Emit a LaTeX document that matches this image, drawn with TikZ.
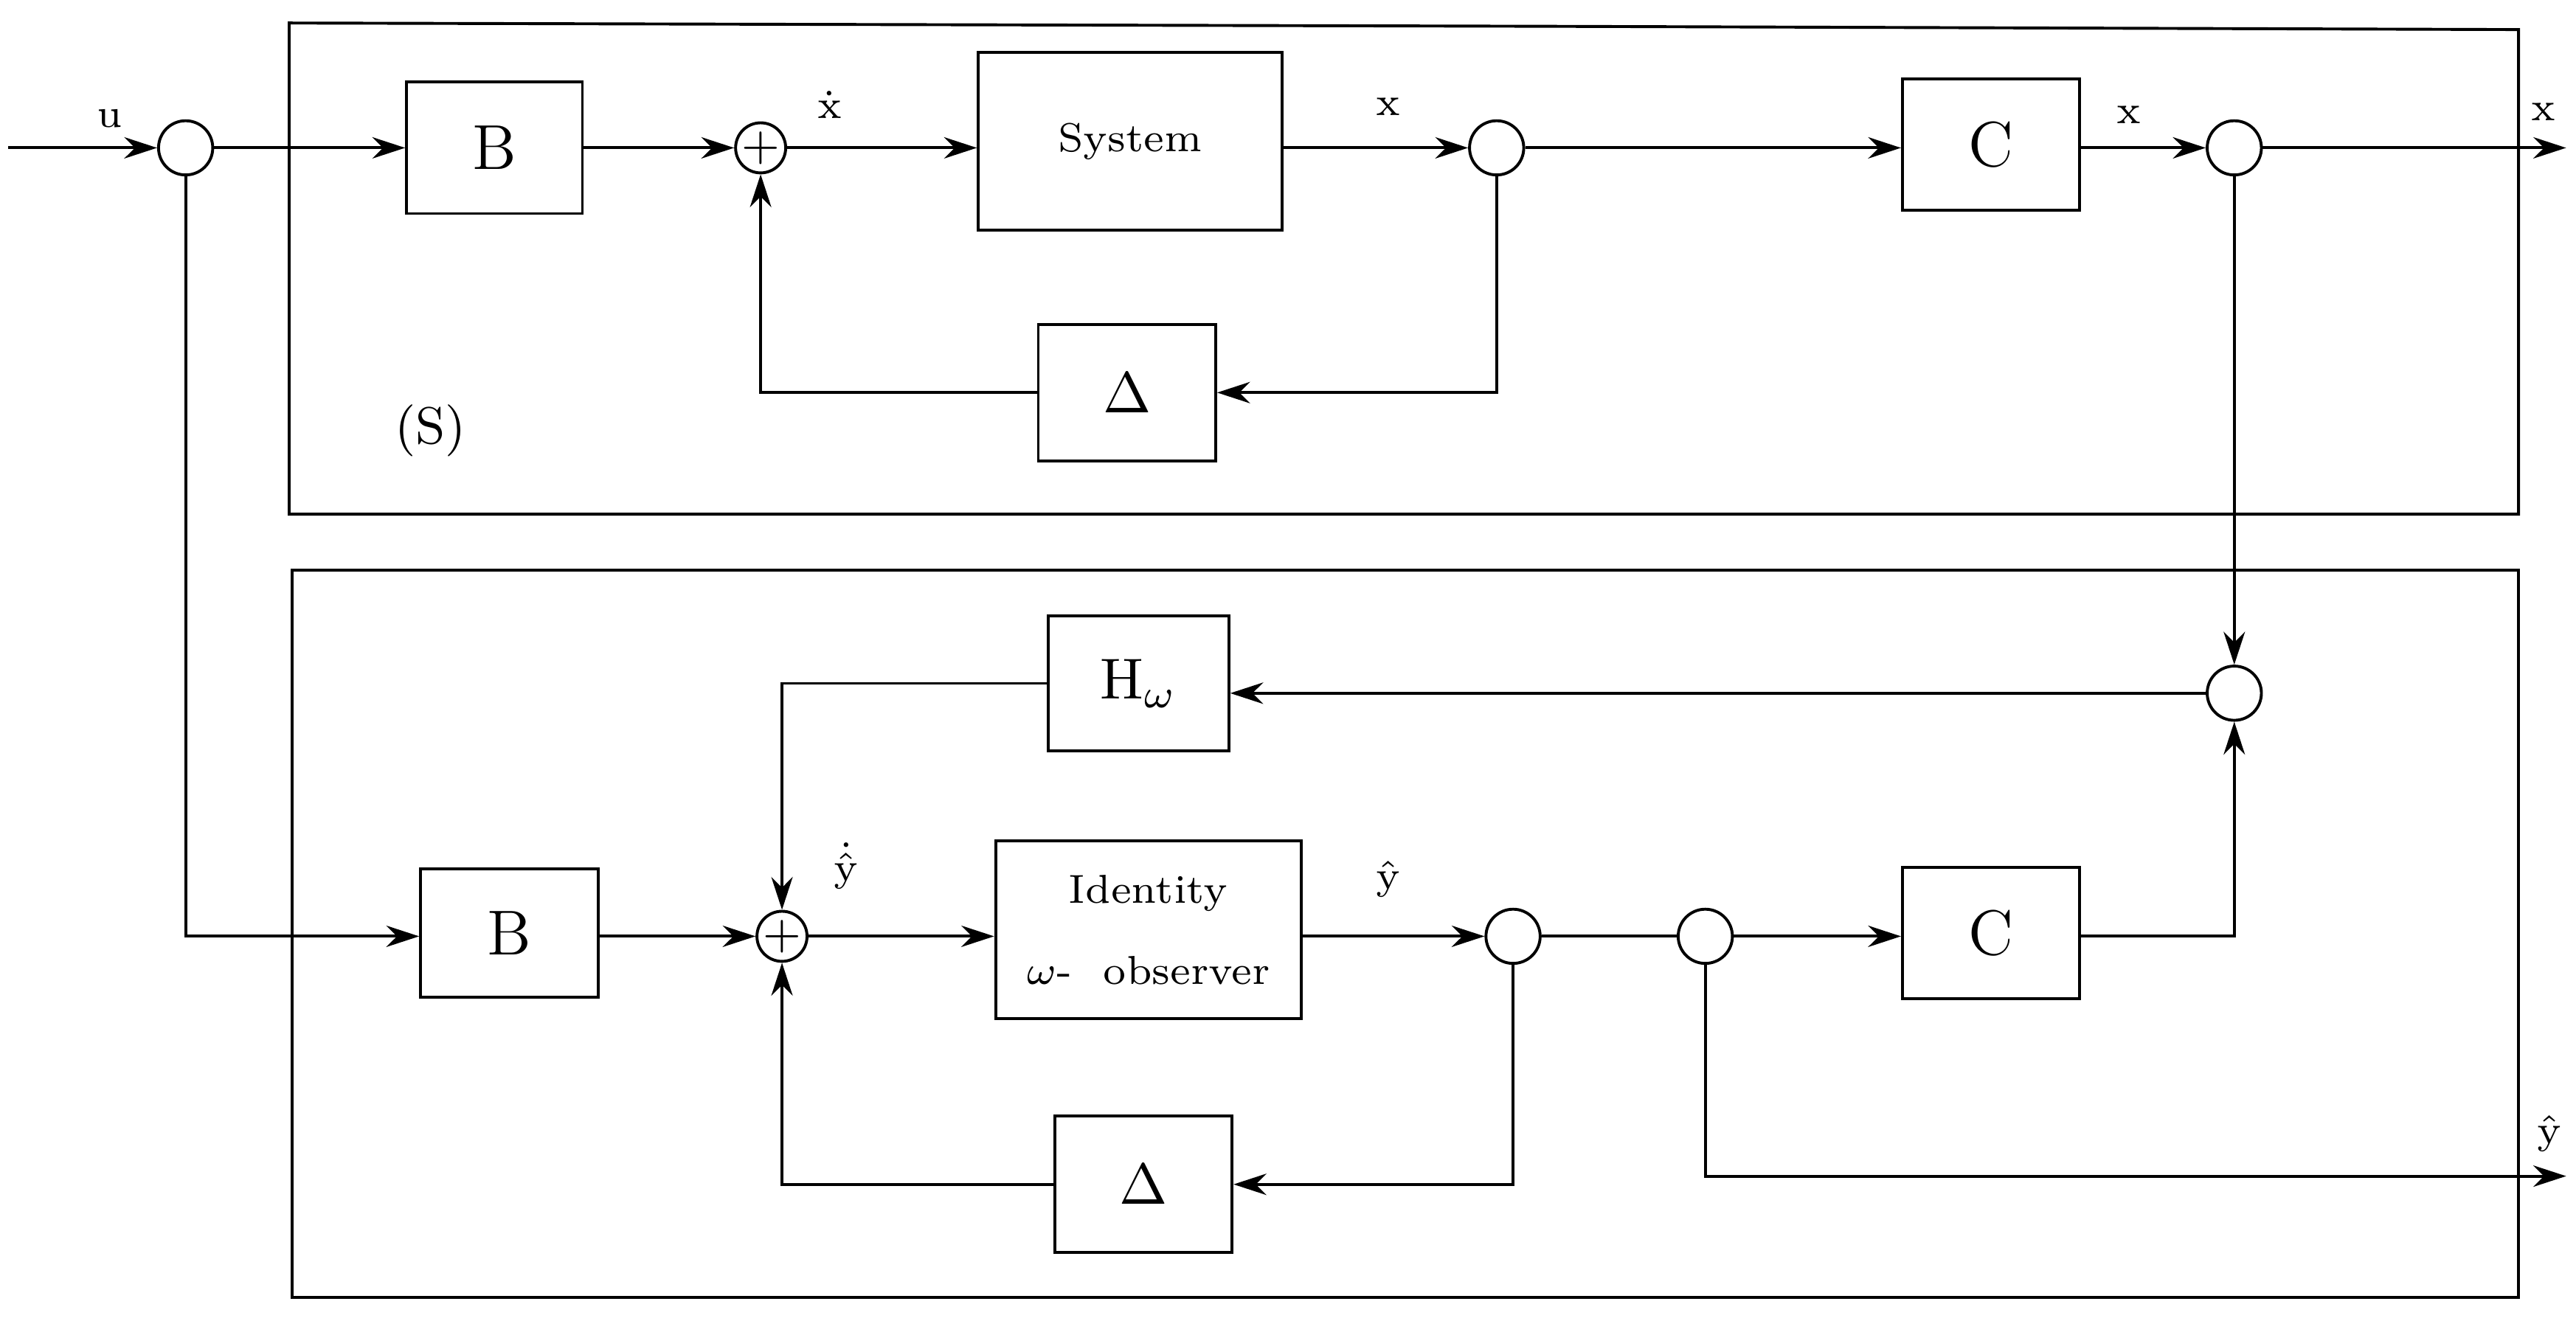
\documentclass[tikz,border=0pt]{standalone}
\usetikzlibrary{arrows.meta}
\begin{document}
\begin{tikzpicture}[x=0.1mm,y=-0.1mm,line width=0.5pt,
 cir/.style={draw,circle,minimum size=3.3mm,inner sep=0pt},
 sm/.style={font=\fontsize{7}{8}\selectfont},
 ar/.style={-{Stealth[length=2mm,width=1.3mm]}}]
\useasboundingbox (0,0) rectangle (1568,804);
% frames
\draw (176,14) -- (940,16) -- (1533,18) -- (1533,313) -- (176,313) -- cycle;
\draw (178,347) -- (1533,347) -- (1533,790) -- (178,790) -- cycle;
% top
\coordinate (uin) at (5,90);
\node[cir] (cu) at (113,90) {};
\node[draw,minimum width=10.7mm,minimum height=8mm,font=\fontsize{11}{12}\selectfont] (B1) at (301,90) {B};
\node[cir,minimum size=3mm,font=\fontsize{8}{8}\selectfont] (s1) at (463,90) {+};
\node[draw,minimum width=18.5mm,minimum height=10.8mm,font=\fontsize{7}{8}\selectfont] (sys) at (688,86) {System};
\node[cir] (c1) at (911,90) {};
\node[draw,minimum width=10.8mm,minimum height=8mm,font=\fontsize{11}{12}\selectfont] (C1) at (1212,88) {C};
\node[cir] (c2) at (1360,90) {};
\coordinate (xout) at (1562,90);
\node[draw,minimum width=10.8mm,minimum height=8.3mm,font=\fontsize{10}{12}\selectfont] (D1) at (686,239) {$\Delta$};
\node[font=\fontsize{9}{10}\selectfont] at (262,262) {(S)};
\draw[ar] (uin) -- (cu);
\node[sm] at (67,72) {u};
\draw[ar] (cu) -- (cu -| B1.west);
\draw[ar] (s1 -| B1.east) -- (s1);
\draw[ar] (s1) -- (s1 -| sys.west);
\node[sm] at (505,64) {$\dot{\mathrm{x}}$};
\draw[ar] (c1 -| sys.east) -- (c1);
\node[sm] at (845,65) {x};
\draw[ar] (c1) -- (c1 -| C1.west);
\draw[ar] (c2 -| C1.east) -- (c2);
\node[sm] at (1296,70) {x};
\draw[ar] (c2) -- (xout);
\node[sm] at (1548,68) {x};
\draw[ar] (c1.south) |- (D1.east);
\draw[ar] (D1.west) -| (s1.south);
% bottom
\node[cir] (c5) at (1360,422) {};
\node[draw,minimum width=11mm,minimum height=8.2mm,font=\fontsize{10}{12}\selectfont] (H) at (693,416) {H$_{\omega}$};
\node[draw,minimum width=10.8mm,minimum height=7.8mm,font=\fontsize{11}{12}\selectfont] (B2) at (310,568) {B};
\node[cir,minimum size=3mm,font=\fontsize{8}{8}\selectfont] (s2) at (476,570) {+};
\node[draw,minimum width=18.6mm,minimum height=10.8mm,align=center,font=\fontsize{7}{12}\selectfont] (obs) at (699,566) {Identity\\[2pt]$\omega$-\ \ observer};
\node[cir] (c3) at (921,570) {};
\node[cir] (c4) at (1038,570) {};
\node[draw,minimum width=10.8mm,minimum height=8mm,font=\fontsize{11}{12}\selectfont] (C2) at (1212,568) {C};
\node[draw,minimum width=10.8mm,minimum height=8.3mm,font=\fontsize{10}{12}\selectfont] (D2) at (696,721) {$\Delta$};
\coordinate (yout) at (1562,716);
\draw[ar] (c2.south) -- (c5.north);
\draw[ar] (c5.west) -- (c5 -| H.east);
\draw[ar] (H.west) -| (s2.north);
\draw[ar] (cu.south) |- (cu |- s2) -- (s2 -| B2.west);
\draw[ar] (s2 -| B2.east) -- (s2);
\draw[ar] (s2) -- (s2 -| obs.west);
\node[sm] at (515,527) {$\dot{\hat{\mathrm{y}}}$};
\draw[ar] (c3 -| obs.east) -- (c3);
\node[sm] at (845,535) {$\hat{\mathrm{y}}$};
\draw (c3) -- (c4);
\draw[ar] (c4) -- (c4 -| C2.west);
\draw[ar] (s2 -| C2.east) -| (c5.south);
\draw[ar] (c3.south) |- (D2.east);
\draw[ar] (D2.west) -| (s2.south);
\draw[ar] (c4.south) |- (yout);
\node[sm] at (1552,690) {$\hat{\mathrm{y}}$};
\end{tikzpicture}
\end{document}
